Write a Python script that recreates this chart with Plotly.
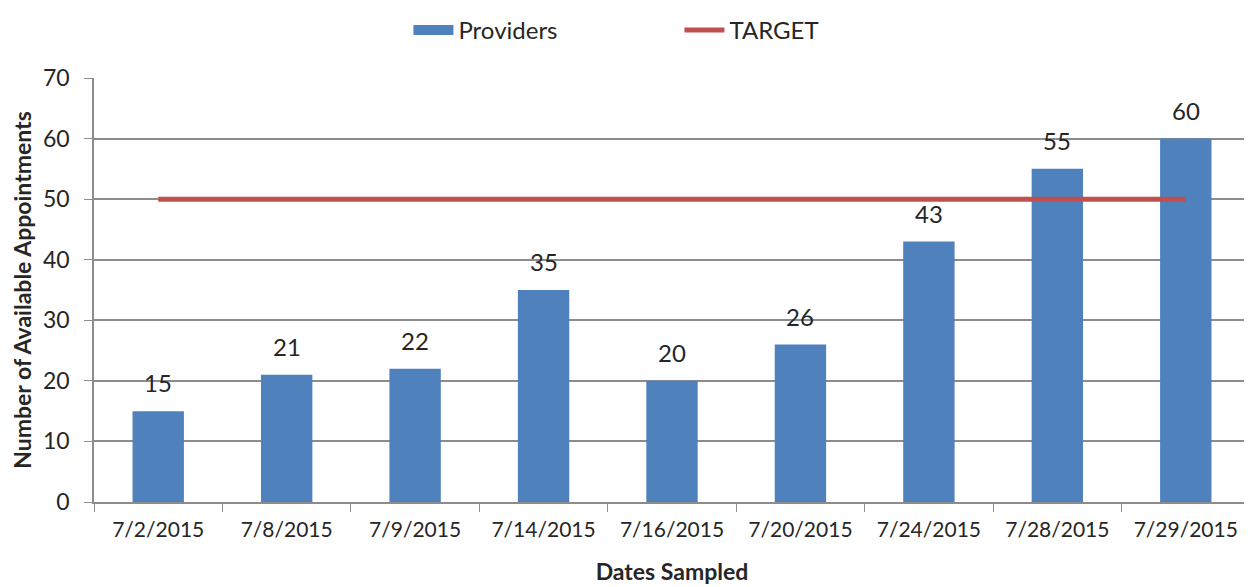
import plotly.graph_objects as go

dates = ["7/2/2015", "7/8/2015", "7/9/2015", "7/14/2015", "7/16/2015",
         "7/20/2015", "7/24/2015", "7/28/2015", "7/29/2015"]
providers = [15, 21, 22, 35, 20, 26, 43, 55, 60]
target = [50, 50, 50, 50, 50, 50, 50, 50, 50]

FONT = "Lato"
GRID = "#8c8c8c"
BLUE = "#4F81BD"

fig = go.Figure()
fig.add_trace(go.Bar(
    x=dates, y=providers, name="Providers", showlegend=False,
    marker=dict(color=BLUE, line=dict(width=0)),
))
# legend-only stand-in so the swatch is a wide block like the original
fig.add_trace(go.Scatter(
    x=[None], y=[None], name="Providers", mode="lines",
    line=dict(color=BLUE, width=15),
))
fig.add_trace(go.Scatter(
    x=dates, y=target, name="TARGET", mode="lines",
    line=dict(color="#C0504D", width=5),
))

# value labels sit a bit above each bar, over the gridlines
for d, v in zip(dates, providers):
    fig.add_annotation(x=d, y=v, text=str(v), showarrow=False,
                       yanchor="bottom", yshift=12,
                       font=dict(family=FONT, size=24, color="#262626"))

# the page body adds an 8px offset, so margins are trimmed to compensate
fig.update_layout(
    width=1252, height=587,
    margin=dict(l=86, r=10, t=70, b=93, autoexpand=False),
    plot_bgcolor="white", paper_bgcolor="white",
    font=dict(family=FONT, color="#262626"),
    bargap=0.6,
    showlegend=True,
    legend=dict(orientation="h", x=0.272, xanchor="left",
                yref="container", y=1.0, yanchor="top",
                font=dict(family=FONT, size=24), entrywidth=216, itemwidth=40),
    xaxis=dict(
        type="category", showline=True, linecolor=GRID, linewidth=1.5,
        ticks="outside", tickson="boundaries", ticklen=8, tickcolor=GRID,
        tickfont=dict(family=FONT, size=21), ticklabelstandoff=8,
        title=dict(text="<b>Dates Sampled</b>", font=dict(family=FONT, size=23), standoff=24),
        showgrid=False, automargin=False,
    ),
    yaxis=dict(
        range=[0, 70], dtick=10, showline=True, linecolor=GRID, linewidth=1.5,
        ticks="outside", ticklen=8, tickcolor=GRID,
        tickfont=dict(family=FONT, size=23), ticklabelstandoff=10,
        showgrid=True, gridcolor=GRID, gridwidth=1.5, zeroline=False,
        title=dict(text="<b>Number of Available Appointments</b>",
                   font=dict(family=FONT, size=23), standoff=12),
        automargin=False,
    ),
)

fig.write_html("out.html")
